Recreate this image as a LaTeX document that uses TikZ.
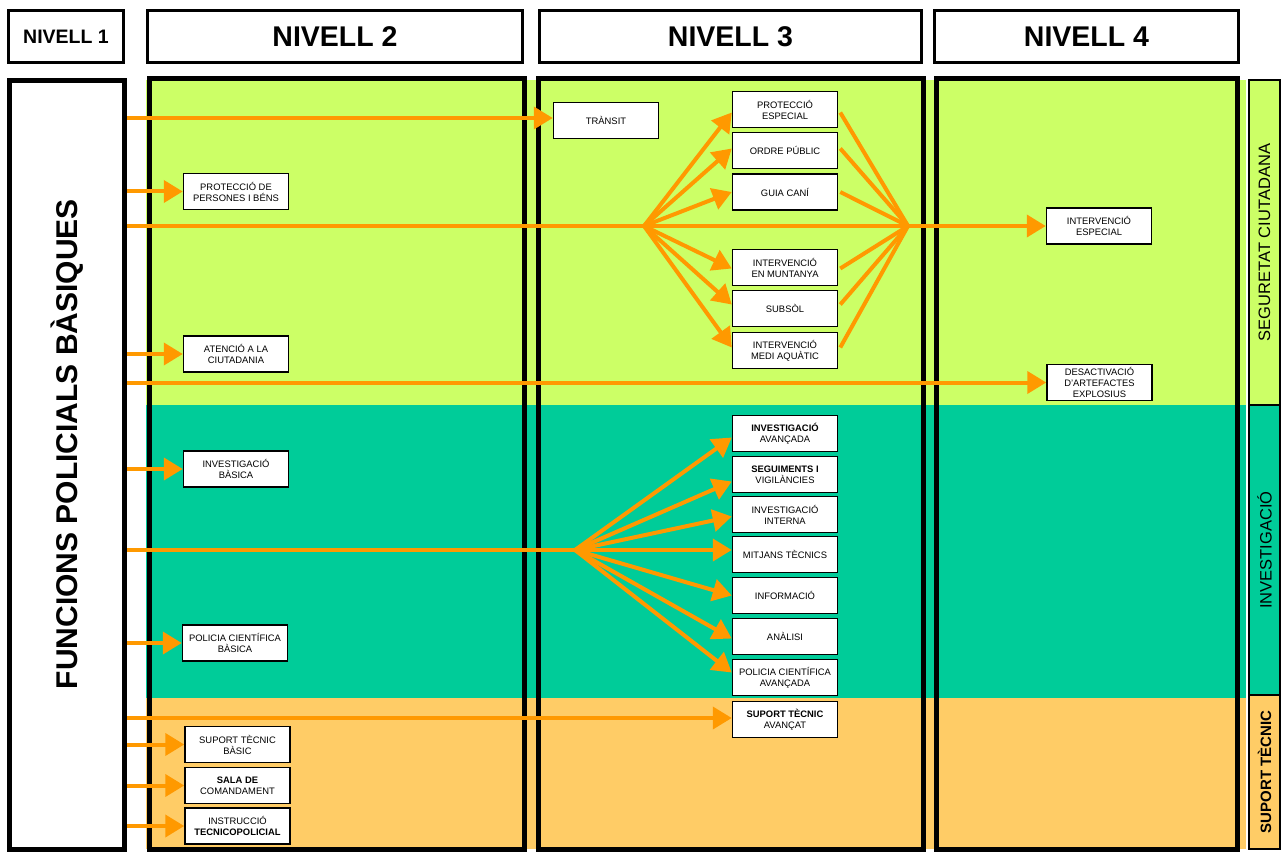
\documentclass[tikz,border=0pt]{standalone}
\usepackage{fontspec}
\setmainfont{Liberation Sans}
\usetikzlibrary{arrows.meta,calc}
\definecolor{lgreen}{HTML}{CCFF66}
\definecolor{tealbg}{HTML}{00CC99}
\definecolor{lorange}{HTML}{FFCC66}
\definecolor{arrowor}{HTML}{FF9900}
\pgfdeclarelayer{bg}
\pgfdeclarelayer{mid}
\pgfsetlayers{bg,mid,main}
\begin{document}
\begin{tikzpicture}[x=1pt,y=-1pt,
 box/.style={draw=black, line width=1.5pt, fill=white, minimum width=105pt, minimum height=36pt, inner sep=0pt, align=center, font=\fontsize{9.4}{11}\selectfont},
 arr/.style={draw=arrowor, line width=4pt, -{Triangle[length=19pt,width=22pt]}},
 ln/.style={draw=arrowor, line width=4pt},
 hdr/.style={draw=black, line width=3pt, fill=white, inner sep=0pt, minimum height=52pt},
 frm/.style={draw=black, line width=5pt},
 side/.style={draw=black, line width=2pt, inner sep=0pt, rotate=90, minimum height=31pt},
]
\useasboundingbox (0,0) rectangle (1284,853);

% headers
\node[hdr, minimum width=115pt, font=\fontsize{19.5}{22}\selectfont\bfseries] (h1) at (66,36.5) {NIVELL 1};
\node[hdr, minimum width=375pt, font=\fontsize{28.5}{32}\selectfont\bfseries] (h2) at (335,36.5) {NIVELL 2};
\node[hdr, minimum width=382pt, font=\fontsize{28.5}{32}\selectfont\bfseries] (h3) at (730.5,36.5) {NIVELL 3};
\node[hdr, minimum width=304pt, font=\fontsize{28.5}{32}\selectfont\bfseries] (h4) at (1086.5,36.5) {NIVELL 4};

% left box
\node[draw=black, line width=5pt, fill=white, minimum width=115pt, minimum height=769pt, inner sep=0pt] (fpb) at (67,465) {};
\node[rotate=90, font=\fontsize{30}{34}\selectfont\bfseries] (fpbt) at (67,444) {FUNCIONS POLICIALS BÀSIQUES};

% bands and frames
\begin{pgfonlayer}{bg}
\fill[lgreen] (146,80) rectangle (1246,405);
\fill[tealbg] (146,405) rectangle (1246,698);
\fill[lorange] (146,698) rectangle (1246,849);
\draw[frm] (149.5,78.5) rectangle (524.5,849.5);
\draw[frm] (538.5,78.5) rectangle (923.5,849.5);
\draw[frm] (936.5,78.5) rectangle (1237.5,849.5);
\end{pgfonlayer}

% side labels
\node[side, fill=lgreen, minimum width=325pt, font=\fontsize{16.5}{18}\selectfont] (sc) at (1264.5,242.5) {SEGURETAT CIUTADANA};
\node[side, fill=tealbg, minimum width=290pt, font=\fontsize{16.5}{18}\selectfont] (inv) at (1264.5,550) {INVESTIGACIÓ};
\node[side, fill=lorange, minimum width=154pt, font=\fontsize{15}{17}\selectfont\bfseries] (st) at (1264.5,772) {SUPORT TÈCNIC};

% level 2 boxes
\node[box] (ppb) at (236,191.5) {PROTECCIÓ DE\\PERSONES I BÉNS};
\node[box] (atc) at (236,354) {ATENCIÓ A LA\\CIUTADANIA};
\node[box] (ib) at (236,469) {INVESTIGACIÓ\\BÀSICA};
\node[box] (pcb) at (235,643) {POLICIA CIENTÍFICA\\BÀSICA};
\node[box] (stb) at (237.5,744.5) {SUPORT TÈCNIC\\BÀSIC};
\node[box] (sdc) at (237.5,785.5) {\textbf{SALA DE}\\COMANDAMENT};
\node[box] (itp) at (237.5,826) {INSTRUCCIÓ\\\textbf{TECNICOPOLICIAL}};

% level 3 boxes
\node[box] (tra) at (606,120.5) {TRÀNSIT};
\node[box] (pe) at (785,109.5) {PROTECCIÓ\\ESPECIAL};
\node[box] (op) at (785,150.5) {ORDRE PÚBLIC};
\node[box] (gc) at (785,192) {GUIA CANÍ};
\node[box] (im) at (785,267.5) {INTERVENCIÓ\\EN MUNTANYA};
\node[box] (sub) at (785,308.5) {SUBSÒL};
\node[box] (ima) at (785,350.5) {INTERVENCIÓ\\MEDI AQUÀTIC};
\node[box] (ia) at (785,433.5) {\textbf{INVESTIGACIÓ}\\AVANÇADA};
\node[box] (sv) at (785,474.5) {\textbf{SEGUIMENTS I}\\VIGILÀNCIES};
\node[box] (ii) at (785,514.5) {INVESTIGACIÓ\\INTERNA};
\node[box] (mt) at (785,554.5) {MITJANS TÈCNICS};
\node[box] (inf) at (785,595.5) {INFORMACIÓ};
\node[box] (ana) at (785,636.5) {ANÀLISI};
\node[box] (pca) at (785,677.5) {POLICIA CIENTÍFICA\\AVANÇADA};
\node[box] (sta) at (785,719.5) {\textbf{SUPORT TÈCNIC}\\AVANÇAT};

% level 4 boxes
\node[box] (ie) at (1099,226) {INTERVENCIÓ\\ESPECIAL};
\node[box] (dae) at (1099.5,382.5) {DESACTIVACIÓ\\D'ARTEFACTES\\EXPLOSIUS};

\coordinate (hubA) at (644,226);
\coordinate (hubB) at (908,226);
\coordinate (hubC) at (575,550);

% arrows
\begin{pgfonlayer}{mid}
\draw[arr] (fpb.east |- 0,118) -- (tra.west |- 0,118);
\draw[arr] (fpb.east |- ppb.west) -- (ppb.west);
\draw[arr] (fpb.east |- ie.west) -- (ie.west);
\draw[arr] (fpb.east |- atc.west) -- (atc.west);
\draw[arr] (fpb.east |- dae.west) -- (dae.west);
\draw[arr] (fpb.east |- ib.west) -- (ib.west);
\draw[ln] (fpb.east |- hubC) -- (hubC);
\draw[arr] (fpb.east |- pcb.west) -- (pcb.west);
\draw[arr] (fpb.east |- 0,718) -- (sta.west |- 0,718);
\draw[arr] (fpb.east |- stb.west) -- (stb.west);
\draw[arr] (fpb.east |- sdc.west) -- (sdc.west);
\draw[arr] (fpb.east |- itp.west) -- (itp.west);
\foreach \b/\dy in {pe/3, op/-2, gc/0, im/1, sub/-4, ima/-3} {
  \draw[arr] (hubA) -- ($(\b.west)+(0,\dy)$);
  \draw[ln] ($(\b.east)+(2,\dy)$) -- (hubB);
}
\foreach \b/\dy in {ia/4, sv/7, ii/2, inf/0, ana/2, pca/-5} {
  \draw[arr] (hubC) -- ($(\b.west)+(0,\dy)$);
}
\draw[arr] (hubC) -- (mt.west |- hubC);
\end{pgfonlayer}
\end{tikzpicture}
\end{document}
